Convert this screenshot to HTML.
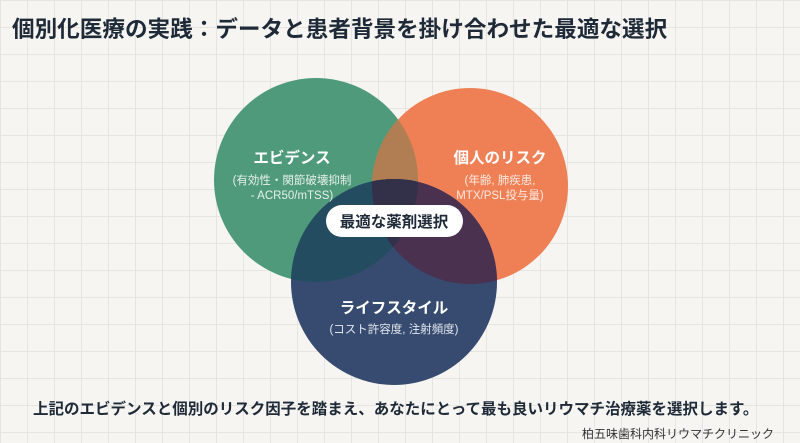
<!DOCTYPE html>
<html><head><meta charset="utf-8"><style>
body{margin:0;width:800px;height:443px;overflow:hidden;background:#f6f5f1;font-family:"Liberation Sans","Noto Sans CJK JP",sans-serif;position:relative;
background-image:linear-gradient(#e6e5e2 1px,transparent 1px),linear-gradient(90deg,#e6e5e2 1px,transparent 1px);background-size:27px 27px;}
.t{position:absolute;white-space:nowrap}
</style></head><body>
<div class="t" style="left:12px;top:11px;font-size:22.6px;font-weight:bold;color:#1e2a38">個別化医療の実践：データと患者背景を掛け合わせた最適な選択</div>
<svg width="800" height="443" style="position:absolute;left:0;top:0">
<defs>
<clipPath id="g"><circle cx="316" cy="180" r="102"/></clipPath>
<clipPath id="o"><circle cx="470" cy="186" r="98"/></clipPath>
</defs>
<circle cx="316" cy="180" r="102" fill="#4f9a7b"/>
<circle cx="470" cy="186" r="98" fill="#ef8056"/>
<circle cx="470" cy="186" r="98" fill="#b07e52" clip-path="url(#g)"/>
<circle cx="394" cy="282" r="103" fill="#364b6f"/>
<circle cx="394" cy="282" r="103" fill="#244c60" clip-path="url(#g)"/>
<circle cx="394" cy="282" r="103" fill="#4a3150" clip-path="url(#o)"/>
<g clip-path="url(#g)"><circle cx="394" cy="282" r="103" fill="#33304a" clip-path="url(#o)"/></g>
<rect x="326" y="205" width="137" height="32" rx="16" fill="#fff"/>
<g font-family="Liberation Sans,Noto Sans CJK JP,sans-serif" text-anchor="middle">
<text x="394" y="227" font-size="15.5" font-weight="bold" fill="#1e2a38">最適な薬剤選択</text>
<text x="292" y="163" font-size="15.5" font-weight="bold" fill="#fff">エビデンス</text>
<text x="292" y="184" font-size="11.5" fill="#e6f0ea">(有効性・関節破壊抑制</text>
<text x="292" y="199" font-size="11.5" fill="#e6f0ea">- ACR50/mTSS)</text>
<text x="500" y="163" font-size="15.5" font-weight="bold" fill="#fff">個人のリスク</text>
<text x="500" y="184" font-size="11.5" fill="#fde9df">(年齢, 肺疾患,</text>
<text x="500" y="199" font-size="11.5" fill="#fde9df">MTX/PSL投与量)</text>
<text x="394" y="313" font-size="15.5" font-weight="bold" fill="#fff">ライフスタイル</text>
<text x="394" y="333" font-size="11.5" fill="#e3e7ef">(コスト許容度, 注射頻度)</text>
</g>
</svg>
<div class="t" style="left:33px;top:397px;font-size:15.5px;font-weight:bold;color:#1e2a38">上記のエビデンスと個別のリスク因子を踏まえ、あなたにとって最も良いリウマチ治療薬を選択します。</div>
<div class="t" style="left:582px;top:425px;font-size:12px;color:#333">柏五味歯科内科リウマチクリニック</div>
</body></html>
